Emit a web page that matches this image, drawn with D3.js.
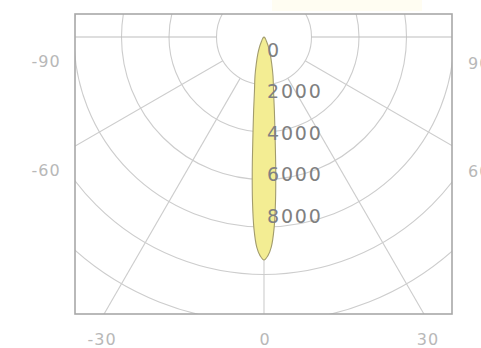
<!DOCTYPE html>
<html><head><meta charset="utf-8">
<script src="https://cdn.jsdelivr.net/npm/d3@7"></script>
<style>html,body{margin:0;padding:0;background:#fff;overflow:hidden}</style>
</head><body>
<script>
// ---- data ----
const lobeAngles = [0,1,2,3,4,5,6,8,10,13,16,20,25,30,40,60,90];          // degrees from nadir
const lobeIntensity = [10750,10550,10120,9250,7950,6500,5200,3600,2650,1930,1350,870,480,240,100,25,0]; // cd
const intensityLabels = [0,2000,4000,6000,8000];
const gridRings = [1,2,3,4,5,6];
const radialAngles = [-90,-60,-30,0,30,60,90];
const sideAngleLabels = [-90,-60];
const rightAngleLabels = [90,60];
const bottomAngleLabels = [-30,0,30];

// ---- layout ----
const W=481,H=348;
const frame={l:75,r:452,t:14,b:314};
const cx=264, cy=37;
const svg=d3.select("body").append("svg").attr("width",W).attr("height",H);
svg.append("rect").attr("width",W).attr("height",H).attr("fill","#fff");
svg.append("rect").attr("x",272).attr("y",0).attr("width",150).attr("height",11).attr("fill","#fffdf2");

const rScale=d3.scaleLinear().domain([0,2000]).range([0,41.5]);
const gScale=d3.scaleLinear().domain([0,1]).range([0,47.5]);

svg.append("clipPath").attr("id","fc").append("rect")
  .attr("x",frame.l).attr("y",frame.t).attr("width",frame.r-frame.l).attr("height",frame.b-frame.t);

const g=svg.append("g").attr("clip-path","url(#fc)");
const gc=g.append("g").attr("transform",`translate(${cx},${cy})`);
gc.selectAll("circle").data(gridRings).join("circle")
  .attr("r",d=>gScale(d)).attr("fill","none").attr("stroke","#cdcdcd").attr("stroke-width",1.1);
const rad=d=>d*Math.PI/180;
gc.selectAll("line.rad").data(radialAngles).join("line").attr("class","rad")
  .attr("x1",d=>gScale(1)*Math.sin(rad(d))).attr("y1",d=>gScale(1)*Math.cos(rad(d)))
  .attr("x2",d=>600*Math.sin(rad(d))).attr("y2",d=>600*Math.cos(rad(d)))
  .attr("stroke",d=>Math.abs(d)===90?"#bdbdbd":"#cdcdcd").attr("stroke-width",1.1);

// lobe
const pts=[];
for(let i=lobeAngles.length-1;i>0;i--) pts.push([-lobeAngles[i],lobeIntensity[i]]);
for(let i=0;i<lobeAngles.length;i++) pts.push([lobeAngles[i],lobeIntensity[i]]);
const line=d3.lineRadial().angle(d=>Math.PI-rad(d[0])).radius(d=>rScale(d[1])).curve(d3.curveCatmullRomClosed);
gc.append("path").attr("d",line(pts)).attr("fill","#f3ed93").attr("stroke","#a29c6e").attr("stroke-width",1.1);

// frame
svg.append("rect").attr("x",frame.l).attr("y",frame.t).attr("width",frame.r-frame.l).attr("height",frame.b-frame.t)
  .attr("fill","none").attr("stroke","#a8a8a8").attr("stroke-width",1.6);

// intensity labels
svg.selectAll("text.il").data(intensityLabels).join("text").attr("class","il")
  .attr("x",cx+3).attr("y",d=>cy+rScale(d)+13).attr("dy","0.36em")
  .attr("font-family","DejaVu Sans").attr("font-size",19).attr("letter-spacing",1.8)
  .attr("fill","#808080").text(d=>d);

// angle labels
const af={"font-family":"DejaVu Sans","font-size":16,"fill":"#b8b8b8","letter-spacing":1};
function sty(s){for(const k in af)s.attr(k,af[k]);return s;}
sty(svg.selectAll("text.la").data(sideAngleLabels).join("text").attr("class","la")
  .attr("x",frame.l-29).attr("y",d=>cy+(cx-frame.l)/Math.tan(rad(Math.abs(d)))+24).attr("dy","0.36em")
  .attr("text-anchor","middle").text(d=>d));
sty(svg.selectAll("text.ra").data(rightAngleLabels).join("text").attr("class","ra")
  .attr("x",frame.r+16).attr("y",d=>cy+(frame.r-cx)/Math.tan(rad(Math.abs(d)))+26).attr("dy","0.36em")
  .attr("text-anchor","start").text(d=>d));
sty(svg.selectAll("text.ba").data(bottomAngleLabels).join("text").attr("class","ba")
  .attr("x",d=>cx+(frame.b-cy)*Math.tan(rad(d))+3*Math.sign(d)+1).attr("y",frame.b+25).attr("dy","0.36em")
  .attr("text-anchor","middle").text(d=>d));
</script>
</body></html>
